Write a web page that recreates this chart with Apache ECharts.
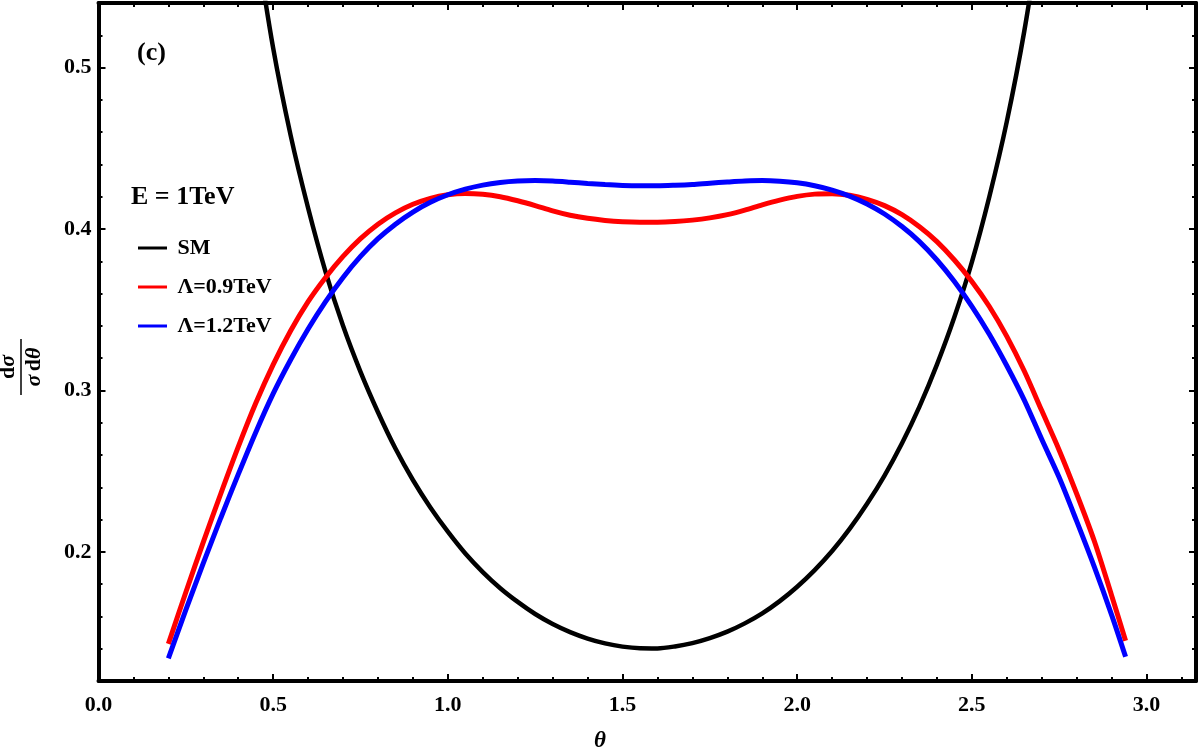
<!DOCTYPE html>
<html>
<head>
<meta charset="utf-8">
<title>dσ/σdθ</title>
<script src="https://cdn.jsdelivr.net/npm/echarts@6/dist/echarts.min.js"></script>
<style>html,body{margin:0;padding:0;background:#fff}</style>
</head>
<body>
<div id="chart" style="width:1200px;height:753px"></div>
<script>
// theta grid and the three curves
var theta = [0.20,0.25,0.30,0.35,0.40,0.45,0.50,0.55,0.60,0.65,0.70,0.75,0.80,0.85,0.90,0.95,1.00,1.05,1.10,1.15,1.20,1.25,1.30,1.35,1.40,1.45,1.50,1.55,
             1.60,1.65,1.70,1.75,1.80,1.85,1.90,1.95,2.00,2.05,2.10,2.15,2.20,2.25,2.30,2.35,2.40,2.45,2.50,2.55,2.60,2.65,2.70,2.75,2.80,2.85,2.90,2.94];
var sm = [null,null,null,null,null,0.580,0.512,0.458,0.413,0.3735,0.340,0.3115,0.2865,0.264,0.2445,0.2275,0.2125,0.199,0.1875,0.1775,0.169,0.1615,0.1553,0.1503,0.1463,0.1433,0.1413,0.1403,
          0.1402,0.1414,0.1435,0.1466,0.1506,0.1557,0.1619,0.1695,0.1784,0.1887,0.2005,0.2142,0.2298,0.2473,0.2673,0.290,0.316,0.3455,0.3795,0.420,0.4665,0.5225,0.591,null,null,null,null,null];
var lam09 = [0.143,0.175,0.206,0.236,0.265,0.292,0.316,0.337,0.355,0.370,0.383,0.394,0.403,0.410,0.4153,0.419,0.4212,0.422,0.4215,0.420,0.4175,0.4145,0.4112,0.4085,0.4066,0.4053,0.4045,0.4042,
             0.4042,0.4046,0.4055,0.4069,0.4089,0.4117,0.415,0.4179,0.4202,0.4216,0.4219,0.4209,0.4184,0.4145,0.4089,0.4014,0.3922,0.3808,0.3675,0.352,0.3335,0.312,0.2875,0.263,0.236,0.207,0.173,0.145];
var lam12 = [0.134,0.164,0.193,0.221,0.248,0.274,0.298,0.319,0.338,0.355,0.370,0.383,0.394,0.403,0.4105,0.4165,0.4212,0.4247,0.4272,0.4288,0.4297,0.430,0.4297,0.429,0.4282,0.4275,0.427,0.4268,
             0.4268,0.4271,0.4276,0.4284,0.4291,0.4297,0.430,0.4296,0.4286,0.4268,0.4241,0.4204,0.4155,0.4093,0.4015,0.3922,0.3808,0.3675,0.3521,0.3348,0.3153,0.294,0.2697,0.246,0.219,0.191,0.161,0.135];
var seriesNames = ['SM', 'Λ=0.9TeV', 'Λ=1.2TeV'];
var seriesColors = ['#000000', '#ff0000', '#0000ff'];
var seriesWidths = [4.5, 5, 5];

var xMin = 0, xMax = Math.PI, xMajor = 0.5, xMinor = 0.1;
var yMin = 0.12, yMax = 0.54, yMinor = 0.02;

var FONT = "'Liberation Serif', 'Times New Roman', serif";

function pairs(ys) {
    return theta.map(function (t, i) { return [t, ys[i]]; });
}

function axis(kind, pos, major) {
    var a = {
        type: 'value',
        position: pos,
        min: kind === 'x' ? xMin : yMin,
        max: kind === 'x' ? xMax : yMax,
        axisLine: { show: major, onZero: false, lineStyle: { color: '#000', width: 4 } },
        axisTick: { show: true, inside: true, length: major ? 7 : 4, lineStyle: { color: '#000', width: 2 } },
        axisLabel: { show: false },
        splitLine: { show: false },
        silent: true
    };
    if (kind === 'x') {
        a.interval = major ? xMajor : xMinor;
    } else if (!major) {
        a.interval = yMinor;
    } else {
        a.splitNumber = 5;
    }
    if (major && (pos === 'bottom' || pos === 'left')) {
        a.axisLabel = {
            show: true,
            showMinLabel: kind === 'x',
            showMaxLabel: false,
            color: '#000',
            fontFamily: FONT,
            fontWeight: 'bold',
            fontSize: 22,
            margin: kind === 'x' ? 13 : 7,
            formatter: function (v) { return v.toFixed(1); }
        };
    }
    return a;
}

var rich = { b: { font: 'bold 22px ' + FONT }, i: { font: 'italic bold 22px ' + FONT } };

var chart = echarts.init(document.getElementById('chart'));
var option = {
    animation: false,
    backgroundColor: '#fff',
    grid: { left: 98.5, right: 4, top: 3, bottom: 72, containLabel: false },
    xAxis: [axis('x', 'bottom', true), axis('x', 'bottom', false), axis('x', 'top', true), axis('x', 'top', false)],
    yAxis: [axis('y', 'left', true), axis('y', 'left', false), axis('y', 'right', true), axis('y', 'right', false)],
    legend: {
        orient: 'vertical',
        left: 133,
        top: 232,
        icon: 'rect',
        itemWidth: 29,
        itemHeight: 3,
        itemGap: 17,
        selectedMode: false,
        data: seriesNames,
        formatter: ' {name}',
        textStyle: { color: '#000', fontFamily: FONT, fontWeight: 'bold', fontSize: 22 }
    },
    series: [sm, lam09, lam12].map(function (ys, i) {
        return {
            name: seriesNames[i],
            type: 'line',
            xAxisIndex: 0,
            yAxisIndex: 0,
            data: pairs(ys),
            showSymbol: false,
            smooth: 0.3,
            clip: true,
            color: seriesColors[i],
            lineStyle: { color: seriesColors[i], width: seriesWidths[i] },
            itemStyle: { color: seriesColors[i] }
        };
    }),
    graphic: [
        { type: 'text', x: 137, y: 53, style: { text: '(c)', font: 'bold 26px ' + FONT, fill: '#000', verticalAlign: 'middle' } },
        { type: 'text', x: 131, y: 197, style: { text: 'E = 1TeV', font: 'bold 26px ' + FONT, fill: '#000', verticalAlign: 'middle' } },
        { type: 'text', x: 600, y: 741, style: { text: 'θ', font: 'italic bold 23px ' + FONT, fill: '#000', align: 'center', verticalAlign: 'middle' } },
        {
            type: 'group', x: 21, y: 367, rotation: Math.PI / 2,
            children: [
                { type: 'text', x: 0, y: -13, style: { text: '{b|d}{i|σ}', align: 'center', verticalAlign: 'middle', fill: '#000', rich: rich } },
                { type: 'line', shape: { x1: -28, y1: 0, x2: 28, y2: 0 }, style: { stroke: '#000', lineWidth: 1.5 } },
                { type: 'text', x: 0, y: 13, style: { text: '{i|σ} {b|d}{i|θ}', align: 'center', verticalAlign: 'middle', fill: '#000', rich: rich } }
            ]
        }
    ]
};
chart.setOption(option);
</script>
</body>
</html>
